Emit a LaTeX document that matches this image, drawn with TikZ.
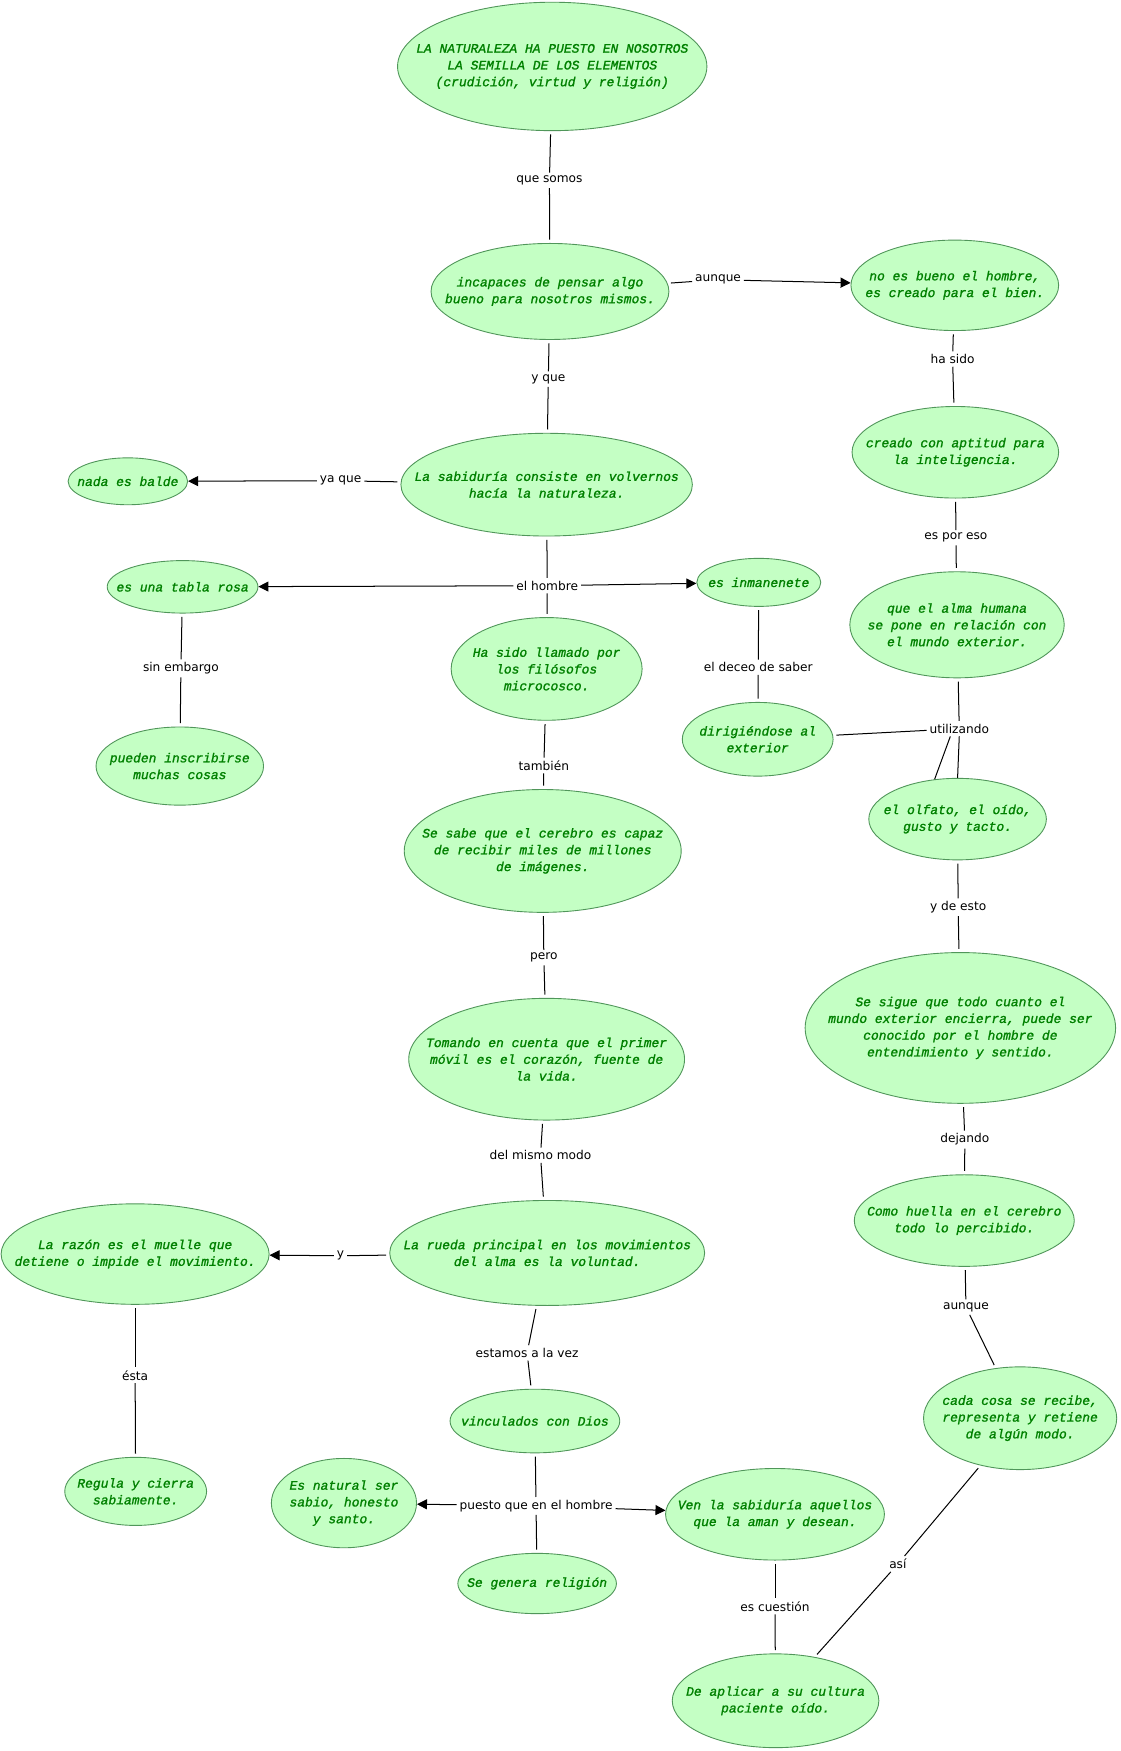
\documentclass[tikz,border=0pt]{standalone}
\usepackage{fontspec}
\setmainfont{DejaVu Sans}
\newfontfamily\gfont[FakeBold=1.3]{Liberation Mono}
\usetikzlibrary{shapes.geometric,arrows.meta}
\definecolor{cfill}{RGB}{196,255,196}
\definecolor{cborder}{RGB}{80,150,90}
\definecolor{ctext}{RGB}{0,128,0}
\tikzset{
  ell/.style={ellipse, draw=cborder, fill=cfill, line width=0.8pt, inner sep=0pt},
  txt/.style={align=center, text=ctext, inner sep=0pt, font=\gfont\itshape\fontsize{11.6}{15}\selectfont},
  lab/.style={inner sep=2.5pt, yshift=-2.5pt, font=\fontsize{10.9}{12}\selectfont, text=black},
  conn/.style={draw=black, line width=0.9pt},
  arr/.style={conn, -{Triangle[length=9pt,width=9pt]}}
}
\newcommand\cnode[6]{%
  \node[ell, minimum width=#4pt, minimum height=#5pt] (#1) at (#2,#3) {};
  \node[txt] (#1t) at (#1.center) {#6};}
\begin{document}
\begin{tikzpicture}[x=1pt,y=-1pt]
\useasboundingbox[fill=white] (0,0) rectangle (1003,1568);
% concepts
\cnode{A}{494.5}{59.5}{277}{115}{LA NATURALEZA HA PUESTO EN NOSOTROS\\LA SEMILLA DE LOS ELEMENTOS\\ (crudición, virtud y religión)}
\cnode{B}{492.5}{261}{213}{86}{incapaces de pensar algo\\bueno para nosotros mismos.}
\cnode{C}{855}{255.5}{186}{81}{no es bueno el hombre,\\es creado para el bien.}
\cnode{D}{855.5}{405}{185}{82}{creado con aptitud para\\la inteligencia.}
\cnode{E}{489.5}{434}{261}{92}{La sabiduría consiste en volvernos\\hacía la naturaleza.}
\cnode{F}{114.5}{431}{107}{42}{nada es balde}
\cnode{G}{163.5}{525.5}{135}{47}{es una tabla rosa}
\cnode{H}{679.5}{521.5}{111}{43}{es inmanenete}
\cnode{I}{857}{559.5}{192}{95}{que el alma humana\\se pone en relación con\\el mundo exterior.}
\cnode{J}{489.5}{599}{171}{92}{Ha sido llamado por\\los filósofos\\microcosco.}
\cnode{K}{161}{686}{150}{70}{pueden inscribirse\\muchas cosas}
\cnode{L}{678.5}{662}{135}{66}{dirigiéndose al\\exterior}
\cnode{M}{857.5}{733.5}{159}{73}{el olfato, el oído,\\gusto y tacto.}
\cnode{N}{486}{762}{248}{110}{Se sabe que el cerebro es capaz\\de recibir miles de millones\\de imágenes.}
\cnode{O}{860}{920.5}{278}{135}{Se sigue que todo cuanto el\\mundo exterior encierra, puede ser\\conocido por el hombre de\\entendimiento y sentido.}
\cnode{P}{489.5}{948.5}{247}{109}{Tomando en cuenta que el primer\\móvil es el corazón, fuente de\\la vida.}
\cnode{Q}{863.5}{1093}{197}{82}{Como huella en el cerebro\\todo lo percibido.}
\cnode{R}{121}{1123}{240}{90}{La razón es el muelle que\\detiene o impide el movimiento.}
\cnode{S}{490}{1122}{282}{94}{La rueda principal en los movimientos\\del alma es la voluntad.}
\cnode{T}{913.5}{1270}{173}{92}{cada cosa se recibe,\\representa y retiene\\de algún modo.}
\cnode{U}{479}{1272.5}{152}{57}{vinculados con Dios}
\cnode{V}{121.5}{1335.5}{127}{61}{Regula y cierra\\sabiamente.}
\cnode{W}{308}{1346}{130}{80}{Es natural ser\\sabio, honesto\\y santo.}
\cnode{X}{694}{1356}{196}{82}{Ven la sabiduría aquellos\\que la aman y desean.}
\cnode{Y}{481}{1418}{142}{54}{Se genera religión}
\cnode{Z}{694.5}{1523}{185}{84}{De aplicar a su cultura\\paciente oído.}
% linking phrases
\node[lab] (l1) at (492,159) {que somos};
\node[lab] (l2) at (643,248) {aunque};
\node[lab] (l3) at (491,337) {y que};
\node[lab] (l4) at (853,319) {ha sido};
\node[lab] (l5) at (305,428) {ya que};
\node[lab] (l6) at (856,479) {es por eso};
\node[lab] (l7) at (490,522) {el hombre};
\node[lab] (l8) at (162,596) {sin embargo};
\node[lab] (l9) at (679,595) {el deceo de saber};
\node[lab] (l10) at (859,650) {utilizando};
\node[lab] (l11) at (487,683) {también};
\node[lab] (l12) at (858,810) {y de esto};
\node[lab] (l13) at (487,855) {pero};
\node[lab] (l14) at (864,1018) {dejando};
\node[lab] (l15) at (484,1032) {del mismo modo};
\node[lab] (l16) at (305,1122) {y};
\node[lab] (l17) at (865,1168) {aunque};
\node[lab] (l18) at (121,1229) {ésta};
\node[lab] (l19) at (472,1209) {estamos a la vez};
\node[lab] (l20) at (480,1346) {puesto que en el hombre};
\node[lab] (l21) at (804,1398) {así};
\node[lab] (l22) at (694,1436) {es cuestión};
% connectors
\draw[conn, shorten <=3pt] (A) -- (l1);
\draw[conn, shorten >=3pt] (l1) -- (B);
\draw[conn, shorten <=3pt] (B) -- (l2);
\draw[arr] (l2) -- (C);
\draw[conn, shorten <=3pt] (B) -- (l3);
\draw[conn, shorten >=3pt] (l3) -- (E);
\draw[conn, shorten <=3pt] (C) -- (l4);
\draw[conn, shorten >=3pt] (l4) -- (D);
\draw[conn, shorten <=3pt] (E) -- (l5);
\draw[arr] (l5) -- (F);
\draw[conn, shorten <=3pt] (D) -- (l6);
\draw[conn, shorten >=3pt] (l6) -- (I);
\draw[conn, shorten <=3pt] (E) -- (l7);
\draw[arr] (l7) -- (G);
\draw[arr] (l7) -- (H);
\draw[conn, shorten >=3pt] (l7) -- (J);
\draw[conn, shorten <=3pt] (G) -- (l8);
\draw[conn, shorten >=3pt] (l8) -- (K);
\draw[conn, shorten <=3pt] (H) -- (l9);
\draw[conn, shorten >=3pt] (l9) -- (L);
\draw[conn, shorten <=3pt] (I) -- (l10);
\draw[conn, shorten <=3pt] (L) -- (l10);
\draw[conn] (l10.south) -- (M.north);
\draw[conn] ([xshift=-8pt]l10.south) -- (M.120);
\draw[conn, shorten <=3pt] (J) -- (l11);
\draw[conn, shorten >=3pt] (l11) -- (N);
\draw[conn, shorten <=3pt] (M) -- (l12);
\draw[conn, shorten >=3pt] (l12) -- (O);
\draw[conn, shorten <=3pt] (N) -- (l13);
\draw[conn, shorten >=3pt] (l13) -- (P);
\draw[conn, shorten <=3pt] (O) -- (l14);
\draw[conn, shorten >=3pt] (l14) -- (Q);
\draw[conn, shorten <=3pt] (P) -- (l15);
\draw[conn, shorten >=3pt] (l15) -- (S);
\draw[conn, shorten <=3pt] (S) -- (l16);
\draw[arr] (l16) -- (R);
\draw[conn, shorten <=3pt] (Q) -- (l17);
\draw[conn, shorten >=3pt] (l17) -- (T);
\draw[conn, shorten <=3pt] (R) -- (l18);
\draw[conn, shorten >=3pt] (l18) -- (V);
\draw[conn, shorten <=3pt] (S) -- (l19);
\draw[conn, shorten >=3pt] (l19) -- (U);
\draw[conn, shorten <=3pt] (U) -- (l20);
\draw[arr] (l20) -- (W);
\draw[arr] (l20) -- (X);
\draw[conn, shorten >=3pt] (l20) -- (Y);
\draw[conn, shorten <=3pt] (T) -- (l21);
\draw[conn, shorten >=3pt] (l21) -- (Z);
\draw[conn, shorten <=3pt] (X) -- (l22);
\draw[conn, shorten >=3pt] (l22) -- (Z);
\end{tikzpicture}
\end{document}
